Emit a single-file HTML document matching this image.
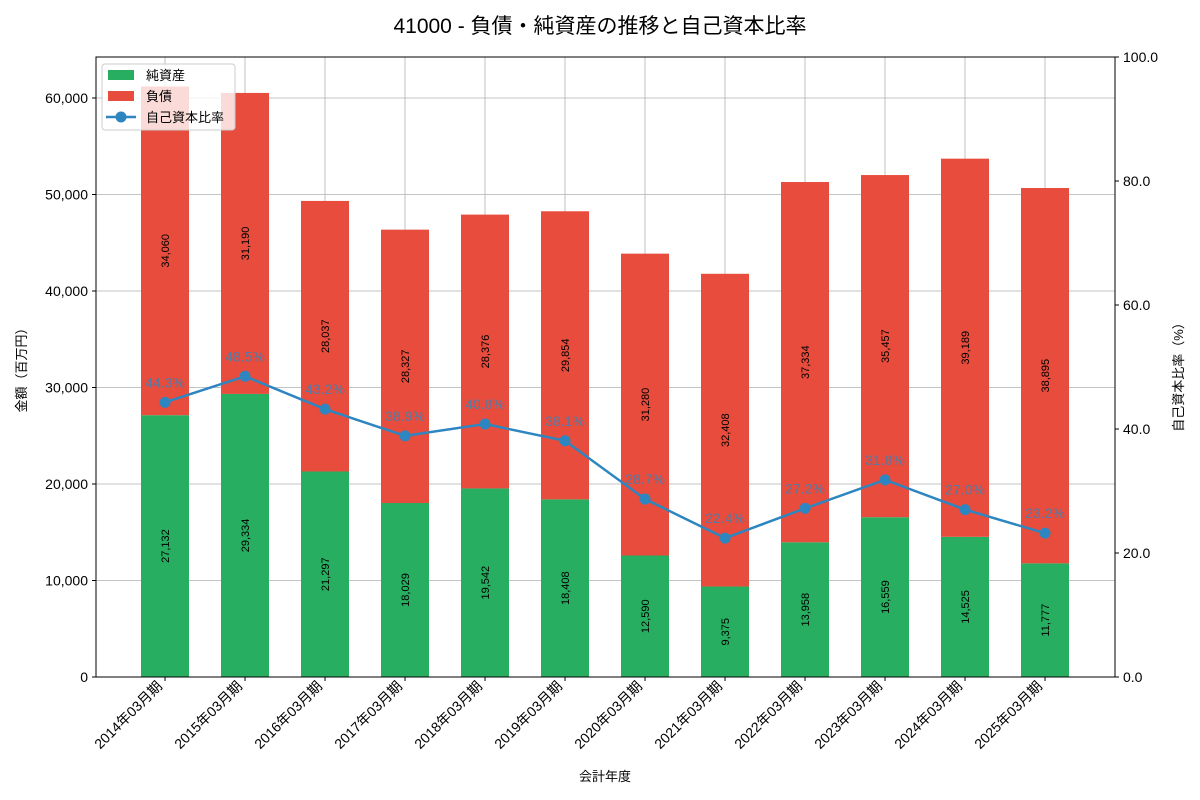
<!DOCTYPE html>
<html><head><meta charset="utf-8">
<style>
html,body{margin:0;padding:0;background:#fff;}
svg{display:block;font-family:"Liberation Sans","Noto Sans CJK JP",sans-serif;}
</style></head>
<body>
<svg id="chart" width="1200" height="800" xmlns="http://www.w3.org/2000/svg">
<text x="600" y="33" text-anchor="middle" font-size="21" fill="#000">41000 - 負債・純資産の推移と自己資本比率</text>
<g id="grid"></g>
<g id="bars"></g>
<g id="line"></g>
<rect x="96" y="57" width="1019" height="620" fill="none" stroke="#000" stroke-width="1"/>
<g id="axes"></g>
<text transform="translate(26,367) rotate(-90)" text-anchor="middle" font-size="13">金額（百万円）</text>
<text transform="translate(1183,374) rotate(-90)" text-anchor="middle" font-size="13">自己資本比率（%）</text>
<text x="605" y="781" text-anchor="middle" font-size="13">会計年度</text>
<g>
<rect x="102" y="64" width="133" height="66" fill="#fff" fill-opacity="0.8" stroke="#ccc" rx="3"/>
<rect x="108" y="70" width="26" height="10" fill="#27ae60"/>
<text x="146" y="80" font-size="13">純資産</text>
<rect x="108" y="91" width="26" height="10" fill="#e74c3c"/>
<text x="146" y="101" font-size="13">負債</text>
<line x1="106" y1="117" x2="136" y2="117" stroke="#2e86c1" stroke-width="2.5"/>
<circle cx="121" cy="117" r="5.5" fill="#2e86c1"/>
<text x="146" y="122" font-size="13">自己資本比率</text>
</g>
</svg>
<script>
const categories=["2014年03月期","2015年03月期","2016年03月期","2017年03月期","2018年03月期","2019年03月期","2020年03月期","2021年03月期","2022年03月期","2023年03月期","2024年03月期","2025年03月期"];
const equity=[27132,29334,21297,18029,19542,18408,12590,9375,13958,16559,14525,11777];
const liabilities=[34060,31190,28037,28327,28376,29854,31280,32408,37334,35457,39189,38895];
const ratio=[44.3,48.5,43.2,38.9,40.8,38.1,28.7,22.4,27.2,31.8,27.0,23.2];
const yTicks=[0,10000,20000,30000,40000,50000,60000];
const y2Ticks=[0,20,40,60,80,100];

const NS="http://www.w3.org/2000/svg";
const X=i=>165+80*i;
const Y=v=>677-v*(579/60000);
const Y2=v=>677-v*6.2;
const fmt=v=>v.toLocaleString("en-US");
function mk(tag,attrs,parent,text){const e=document.createElementNS(NS,tag);for(const k in attrs)e.setAttribute(k,attrs[k]);if(text!==undefined)e.textContent=text;parent.appendChild(e);return e;}
const grid=document.getElementById("grid"),bars=document.getElementById("bars"),line=document.getElementById("line"),axes=document.getElementById("axes");

yTicks.forEach(t=>{
 const g=mk("line",{x1:96,x2:1115,y1:Y(t),y2:Y(t),stroke:"#b0b0b0","stroke-width":0.8},grid);
 
 
 mk("line",{x1:92,x2:96,y1:Y(t),y2:Y(t),stroke:"#000"},axes);
 const l=mk("text",{x:88,y:Y(t)+5,"text-anchor":"end","font-size":14},axes,fmt(t));
 
 
});
y2Ticks.forEach(t=>{
 mk("line",{x1:1115,x2:1119,y1:Y2(t),y2:Y2(t),stroke:"#000"},axes);
 const l=mk("text",{x:1123,y:Y2(t)+5,"font-size":14},axes,t.toFixed(1));
 
 
});
categories.forEach((c,i)=>{
 const x=X(i);
 const g=mk("line",{x1:x,x2:x,y1:57,y2:677,stroke:"#b0b0b0","stroke-width":0.8},grid);
 
 
 mk("line",{x1:x,x2:x,y1:677,y2:681,stroke:"#000"},axes);
 const l=mk("text",{transform:`translate(${x-2},${687}) rotate(-45)`,"text-anchor":"end","font-size":14},axes,c);
 
 
 const e=equity[i],d=liabilities[i];
 const r1=mk("rect",{x:x-24,y:Y(e),width:48,height:677-Y(e),fill:"#27ae60"},bars);
 
 
 const r2=mk("rect",{x:x-24,y:Y(e+d),width:48,height:Y(e)-Y(e+d),fill:"#e74c3c"},bars);
 
 
 const t1=mk("text",{transform:`translate(${x+4},${Y(e/2)}) rotate(-90)`,"text-anchor":"middle","font-size":11},bars,fmt(e));
 
 
 const t2=mk("text",{transform:`translate(${x+4},${Y(e+d/2)}) rotate(-90)`,"text-anchor":"middle","font-size":11},bars,fmt(d));
 
 
});
const pl=mk("polyline",{points:ratio.map((r,i)=>X(i)+","+Y2(r)).join(" "),fill:"none",stroke:"#2e86c1","stroke-width":2.5},line);


ratio.forEach((r,i)=>{
 const c=mk("circle",{cx:X(i),cy:Y2(r),r:5.5,fill:"#2e86c1"},line);
 
 
 const t=mk("text",{x:X(i),y:Y2(r)-15,"text-anchor":"middle","font-size":14,fill:"#2e86c1","fill-opacity":0.75},line,r.toFixed(1)+"%");
 
 
});
</script>
</body></html>
